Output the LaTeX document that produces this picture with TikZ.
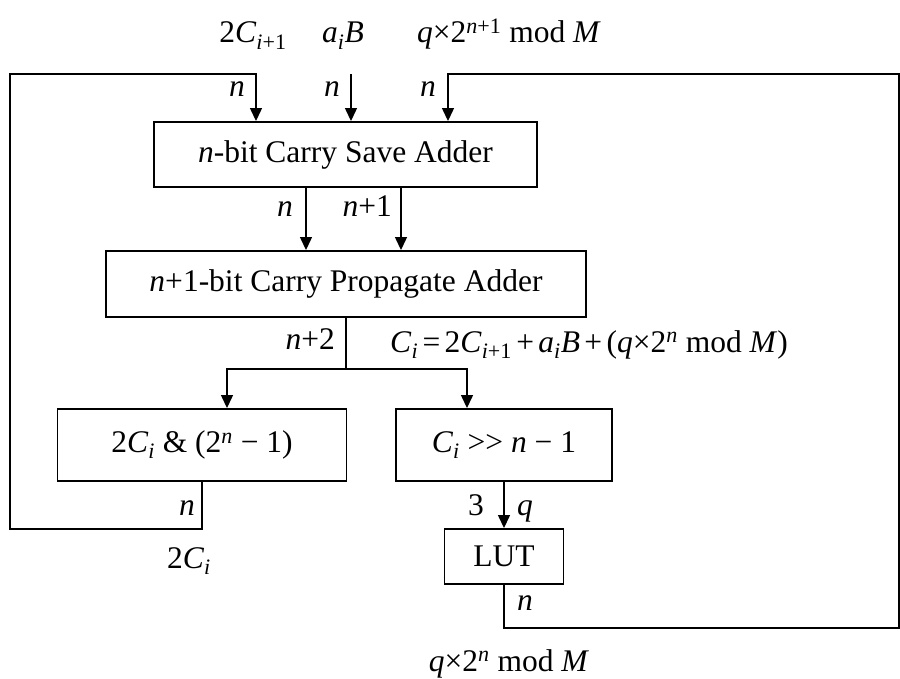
\documentclass[tikz,border=0pt]{standalone}
\usepackage{fontspec}
\setmainfont{Liberation Serif}
\usetikzlibrary{arrows.meta}
\newcommand{\vi}[1]{\textit{#1}}
\newcommand{\ts}{\hspace{0.14em}}
\begin{document}
\begin{tikzpicture}[x=1pt,y=-1pt,
  font=\fontsize{31.5}{36}\selectfont,
  box/.style={draw, line width=1.9pt, inner sep=0pt},
  con/.style={line width=1.3pt},
  arr/.style={con, -{Triangle[width=12pt,length=13pt]}},
  lbl/.style={inner sep=0pt}]
\useasboundingbox (0,0) rectangle (900,679);

% boxes
\node[box, minimum width=383pt, minimum height=65pt] (csa) at (345.5,154.5) {\vi{n}-bit Carry Save Adder};
\node[box, minimum width=480pt, minimum height=66pt] (cpa) at (346,284) {\vi{n}+1-bit Carry Propagate Adder};
\node[box, minimum width=289pt, minimum height=72pt] (andb) at (202,445) {2\vi{C}\textsubscript{\vi{i}} \& (2\textsuperscript{\vi{n}} − 1)};
\node[box, minimum width=216pt, minimum height=72pt] (shb) at (504,445) {\vi{C}\textsubscript{\vi{i}} >\kern0pt> \vi{n} − 1};
\node[box, minimum width=119pt, minimum height=55pt] (lut) at (504,556.5) {LUT};

% helper coordinates
\coordinate (x1) at (256,74);
\coordinate (x2) at (351,74);
\coordinate (x3) at (448,74);
\coordinate (bl) at (10,529);
\coordinate (br) at (899,628);
\coordinate (s1) at (306,0);
\coordinate (s2) at (401,0);
\coordinate (a1) at (227,369);
\coordinate (a2) at (467,369);

% connectors
\draw[arr] (andb.south) |- (bl) |- (x1) -- (x1 |- csa.north);
\draw[arr] (x2) -- (x2 |- csa.north);
\draw[arr] (lut.south) |- (br) |- (x3) -- (x3 |- csa.north);
\draw[arr] (csa.south -| s1) -- (cpa.north -| s1);
\draw[arr] (csa.south -| s2) -- (cpa.north -| s2);
\draw[arr] (cpa.south) |- (a1) -- (a1 |- andb.north);
\draw[arr] (cpa.south) |- (a2) -- (a2 |- shb.north);
\draw[arr] (shb.south) -- (lut.north);

% labels
\node[lbl, anchor=base] (t1) at (253,43) {2\vi{C}\textsubscript{\vi{i}+1}};
\node[lbl, anchor=base] (t2) at (343,43) {\vi{a}\textsubscript{\vi{i}}\vi{B}};
\node[lbl, anchor=base] (t3) at (509,43) {\vi{q}×2\textsuperscript{\vi{n}+1} mod \vi{M}};
\node[lbl, anchor=base east] (n1) at (245,97) {\vi{n}};
\node[lbl, anchor=base east] (n2) at (340,97) {\vi{n}};
\node[lbl, anchor=base east] (n3) at (436,97) {\vi{n}};
\node[lbl, anchor=base east] (n4) at (293,217) {\vi{n}};
\node[lbl, anchor=base east] (n5) at (392,217) {\vi{n}+1};
\node[lbl, anchor=base east] (n6) at (335,349) {\vi{n}+2};
\node[lbl, anchor=base west] (eq) at (390,352) {\vi{C}\textsubscript{\vi{i}}\ts=\ts2\vi{C}\textsubscript{\vi{i}+1}\ts+\ts\vi{a}\textsubscript{\vi{i}}\vi{B}\ts+\ts(\vi{q}×2\textsuperscript{\vi{n}} mod \vi{M})};
\node[lbl, anchor=base east] (n7) at (195,515) {\vi{n}};
\node[lbl, anchor=base] (l2c) at (189,568) {2\vi{C}\textsubscript{\vi{i}}};
\node[lbl, anchor=base east] (n8) at (484,515) {3};
\node[lbl, anchor=base west] (nq) at (517,515) {\vi{q}};
\node[lbl, anchor=base west] (n9) at (517,610) {\vi{n}};
\node[lbl, anchor=base] (bot) at (509,671) {\vi{q}×2\textsuperscript{\vi{n}} mod \vi{M}};
\end{tikzpicture}
\end{document}
